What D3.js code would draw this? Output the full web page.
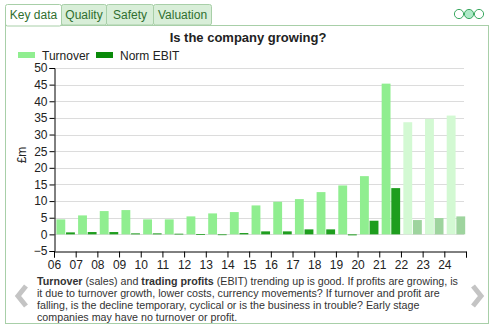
<!DOCTYPE html>
<html><head><meta charset="utf-8">
<script src="https://cdn.jsdelivr.net/npm/d3@7"></script>
<style>
body{margin:0;background:#fff;}
svg{display:block;font-family:"Liberation Sans",Arial,sans-serif;}
</style></head>
<body>
<svg id="c" width="499" height="332"></svg>
<script>
const years = ["06","07","08","09","10","11","12","13","14","15","16","17","18","19","20","21","22","23","24"];
const turnover = [4.5,5.7,7.0,7.3,4.5,4.5,5.4,6.3,6.7,8.7,9.8,10.6,12.7,14.7,17.5,45.3,33.7,34.7,35.7];
const ebit = [0.6,0.7,0.7,0.3,0.3,0.2,0.05,-0.1,0.4,0.9,0.9,1.5,1.5,-0.3,4.1,13.9,4.3,4.9,5.4];
const forecast = [false,false,false,false,false,false,false,false,false,false,false,false,false,false,false,false,true,true,true];
const yTicks = [-5,0,5,10,15,20,25,30,35,40,45,50];
const tabs = ["Key data","Quality","Safety","Valuation"];
const descLines = [
 [["Turnover",true],[" (sales) and ",false],["trading profits",true],[" (EBIT) trending up is good. If profits are growing, is",false]],
 [["it due to turnover growth, lower costs, currency movements? If turnover and profit are",false]],
 [["falling, is the decline temporary, cyclical or is the business in trouble? Early stage",false]],
 [["companies may have no turnover or profit.",false]]
];
const colT = "#90ee90", colE = "#1e9e1e", colTf = "#d3f9d3", colEf = "#9ed49e";

const svg = d3.select("#c");
// panel
svg.append("rect").attr("x",5.5).attr("y",25.5).attr("width",483).attr("height",298).attr("fill","#fff").attr("stroke","#a8cfa8");
// tabs
const tabX = [5,61,106,153,211];
tabs.forEach((t,i)=>{
  const g = svg.append("g");
  g.append("rect").attr("x",tabX[i]+0.5).attr("y",4.5).attr("width",tabX[i+1]-tabX[i]).attr("height",i===0?21.5:20.5)
   .attr("fill",i===0?"#fff":"#d8eed8").attr("stroke","#a8cfa8").attr("rx",2);
  g.append("text").attr("x",(tabX[i]+tabX[i+1])/2+0.5).attr("y",19).attr("text-anchor","middle")
   .attr("font-size",12).attr("fill","#2f6f2f").text(t);
});
svg.append("line").attr("x1",5.5).attr("x2",5.5).attr("y1",20).attr("y2",30).attr("stroke","#a8cfa8");
// dots
[459,469,479].forEach((cx,i)=>{
  svg.append("circle").attr("cx",cx).attr("cy",14).attr("r",4.6)
   .attr("fill",i===1?"#aeeac8":"#fff").attr("stroke","#3aa860").attr("stroke-width",1);
});
// title
svg.append("text").attr("x",248).attr("y",42).attr("text-anchor","middle").attr("font-weight","bold")
  .attr("font-size",13).attr("fill","#222").text("Is the company growing?");
// legend
svg.append("rect").attr("x",18).attr("y",52).attr("width",17).attr("height",6).attr("fill",colT);
svg.append("text").attr("x",42).attr("y",59.5).attr("font-size",12).attr("fill","#222").text("Turnover");
svg.append("rect").attr("x",96).attr("y",52).attr("width",17).attr("height",6).attr("fill","#0a8a0a");
svg.append("text").attr("x",120).attr("y",59.5).attr("font-size",12).attr("fill","#222").text("Norm EBIT");

// scales
const y = d3.scaleLinear().domain([-5,50]).range([251,68]);
const x = d3.scaleBand().domain(years).range([54,466]).padding(0);
const xs = d3.scaleBand().domain(["t","e"]).range([2.4,x.bandwidth()-0.8]).paddingInner(0.08);
const xl = d3.scaleLinear().domain([0,years.length]).range([54,466]);

// grid
svg.append("g").selectAll("line").data(yTicks.filter(v=>v>-5)).join("line")
  .attr("x1",54).attr("x2",464).attr("y1",d=>Math.round(y(d))+0.5).attr("y2",d=>Math.round(y(d))+0.5)
  .attr("stroke","#dcdcdc");

// bars
const bars = svg.append("g");
years.forEach((yr,i)=>{
  const tv = turnover[i], ev = ebit[i];
  bars.append("rect").attr("x",x(yr)+xs("t")).attr("width",xs.bandwidth())
    .attr("y",y(Math.max(0,tv))).attr("height",Math.abs(y(tv)-y(0)))
    .attr("fill",forecast[i]?colTf:colT);
  bars.append("rect").attr("x",x(yr)+xs("e")).attr("width",xs.bandwidth())
    .attr("y",y(Math.max(0,ev))).attr("height",Math.max(0.8,Math.abs(y(ev)-y(0))))
    .attr("fill",forecast[i]?colEf:colE);
});

// axes
const ya = svg.append("g").attr("transform","translate(54.5,0)")
  .call(d3.axisLeft(y).tickValues(yTicks).tickSize(5).tickPadding(2).tickFormat(d3.format("d")));
ya.select(".domain").attr("stroke","#000");
ya.selectAll("text").attr("font-size",12).attr("fill","#222").attr("font-family","Liberation Sans, Arial, sans-serif");
const xa = svg.append("g").attr("transform","translate(0,251.5)")
  .call(d3.axisBottom(xl).tickValues(d3.range(years.length+1)).tickSize(6).tickPadding(3).tickFormat(i=>years[i]||""));
xa.select(".domain").attr("stroke","#000");
xa.selectAll("text").attr("font-size",12).attr("fill","#222").attr("font-family","Liberation Sans, Arial, sans-serif");

svg.append("text").attr("transform","translate(26,155) rotate(-90)").attr("text-anchor","middle")
  .attr("font-size",12).attr("fill","#222").text("£m");

// description
const desc = svg.append("text").attr("x",37).attr("font-size",10.7).attr("fill","#333");
descLines.forEach((ln,li)=>{
  ln.forEach((seg,si)=>{
    const ts = desc.append("tspan").text(seg[0]).attr("font-weight",seg[1]?"bold":null);
    if(si===0) ts.attr("x",37).attr("y",284.5+li*12);
  });
});
// arrows
svg.append("path").attr("d","M26,286 L18,296 L26,306").attr("fill","none").attr("stroke","#c4c4c4").attr("stroke-width",5);
svg.append("path").attr("d","M473,286 L481,296 L473,306").attr("fill","none").attr("stroke","#c4c4c4").attr("stroke-width",5);
</script>
</body></html>
